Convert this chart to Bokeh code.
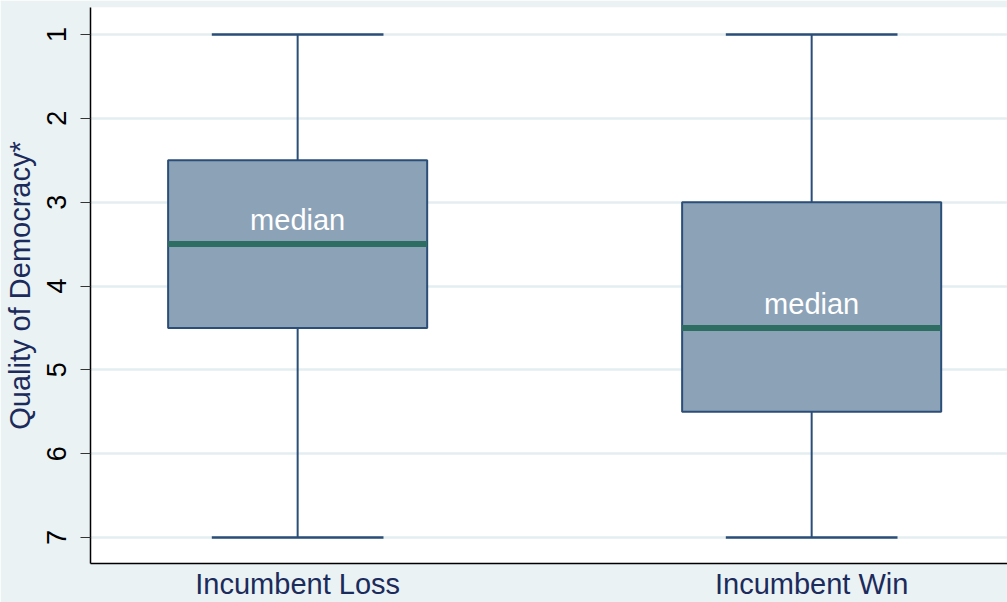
from bokeh.plotting import figure
from bokeh.models import Range1d, FixedTicker, ColumnDataSource
from bokeh.core.properties import value
from bokeh.embed import file_html
from bokeh.resources import INLINE

# ---- data ----
categories = ["Incumbent Loss", "Incumbent Win"]
positions = [1, 2]
whisker_low = [1, 1]      # best (top of inverted axis)
q1 = [2.5, 3.0]
median = [3.5, 4.5]
q3 = [4.5, 5.5]
whisker_high = [7, 7]
y_ticks = [1, 2, 3, 4, 5, 6, 7]
y_title = "Quality of Democracy*"
median_text = ["median", "median"]

BOX_HALF = 0.252
CAP_HALF = 0.167
FONT = "Liberation Sans"
NAVY = "#1b2b5b"
EDGE = "#2a4e78"
BG = "#eaf2f3"

p = figure(width=1007, height=602, output_backend="svg", toolbar_location=None,
           x_range=Range1d(0.597, 2.381), y_range=Range1d(7.31, 0.678),
           min_border_left=90, min_border_right=0, min_border_top=7, min_border_bottom=39)
p.border_fill_color = BG
p.background_fill_color = "white"
p.outline_line_color = None

src = ColumnDataSource(dict(
    x=positions,
    left=[v - BOX_HALF for v in positions],
    right=[v + BOX_HALF for v in positions],
    cl=[v - CAP_HALF for v in positions],
    cr=[v + CAP_HALF for v in positions],
    wl=whisker_low, q1=q1, med=median, q3=q3, wh=whisker_high,
    label=median_text,
))

# whiskers
p.segment(x0="x", y0="wl", x1="x", y1="q1", source=src, line_color=EDGE, line_width=2)
p.segment(x0="x", y0="q3", x1="x", y1="wh", source=src, line_color=EDGE, line_width=2)
p.segment(x0="cl", y0="wl", x1="cr", y1="wl", source=src, line_color=EDGE, line_width=2.5)
p.segment(x0="cl", y0="wh", x1="cr", y1="wh", source=src, line_color=EDGE, line_width=2.5)
# boxes
p.quad(left="left", right="right", top="q1", bottom="q3", source=src,
       fill_color="#8ca2b7", line_color=EDGE, line_width=2)
# median
p.segment(x0="left", y0="med", x1="right", y1="med", source=src,
          line_color="#2e6e62", line_width=6)
p.text(x="x", y="med", text="label", source=src, text_color="white",
       text_font=value(FONT), text_font_size="29px", text_align="center",
       text_baseline="alphabetic", y_offset=-24)

# axes
ya = p.yaxis[0]
ya.ticker = FixedTicker(ticks=y_ticks)
ya.major_label_orientation = "vertical"
ya.major_label_text_font = FONT
ya.major_label_text_font_size = "27px"
ya.major_label_text_color = "black"
ya.major_tick_out = 10
ya.major_tick_in = 0
ya.minor_tick_line_color = None
ya.major_label_standoff = 14
ya.axis_line_color = "black"
ya.axis_line_width = 1.5
ya.major_tick_line_color = "#333333"
ya.axis_label = y_title
ya.axis_label_text_font = FONT
ya.axis_label_text_font_size = "29px"
ya.axis_label_text_font_style = "normal"
ya.axis_label_text_color = NAVY
ya.axis_label_standoff = 9

xa = p.xaxis[0]
xa.ticker = FixedTicker(ticks=positions)
xa.major_label_overrides = {pos: c for pos, c in zip(positions, categories)}
xa.major_label_text_font = FONT
xa.major_label_text_font_size = "29px"
xa.major_label_text_color = NAVY
xa.major_tick_out = 0
xa.major_tick_in = 0
xa.major_tick_line_color = None
xa.minor_tick_line_color = None
xa.major_label_standoff = 4
xa.axis_line_color = "black"
xa.axis_line_width = 1.5

p.xgrid.grid_line_color = None
p.ygrid.ticker = FixedTicker(ticks=y_ticks)
p.ygrid.grid_line_color = "#e4eef1"
p.ygrid.grid_line_width = 2.5

open("out.html", "w").write(file_html(p, INLINE))
